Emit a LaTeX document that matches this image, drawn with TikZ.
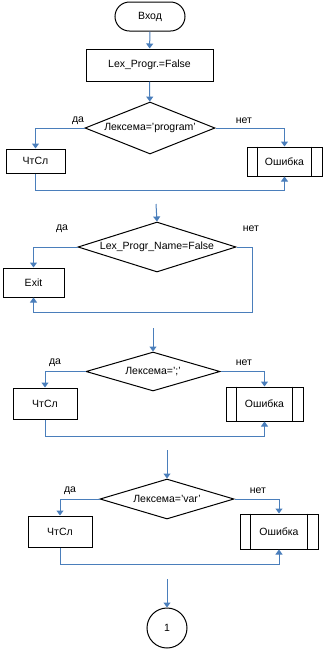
\documentclass[tikz,border=0pt]{standalone}
\usepackage{fontspec}
\setmainfont{Liberation Sans}
\usetikzlibrary{shapes.geometric,shapes.misc,arrows.meta,positioning}
\definecolor{fc-line}{HTML}{4A7EBB}

\begin{document}
\begin{tikzpicture}[
    x=1pt, y=-1pt,
    font=\fontsize{10.5}{12}\selectfont,
    term/.style={draw, line width=1pt, rounded rectangle, minimum width=70pt, minimum height=29pt, inner sep=0pt},
    proc/.style={draw, line width=1pt, minimum width=#1, inner sep=0pt},
    cond/.style={draw, line width=1pt, diamond, aspect=3, inner sep=0pt},
    subproc/.style={draw, line width=1pt, inner sep=0pt},
    endpt/.style={draw, line width=1pt, circle, minimum size=40pt, inner sep=0pt},
    lbl/.style={inner sep=0pt},
    conn/.style={-{Triangle[width=7pt,length=5pt]}, draw=fc-line, line width=1pt},
    joint/.style={draw=fc-line, line width=1pt}
]
\useasboundingbox (0,0) rectangle (323,649);

% ── Начало ───────────────────────────────────────────
\node[term] (start) at (150,16.5) {Вход};
\node[proc=127pt, minimum height=32pt] (init) at (149.5,65) {Lex\_Progr.=False};
\draw[conn] (start) -- (init);

% ── Проверка 'program' ────────────────────────────────
\node[cond, minimum width=130pt, minimum height=52pt] (d1) at (150,128) {Лексема='program'};
\node[proc=59pt, minimum height=24pt] (rd1) at (35.5,161) {ЧтСл};
\node[subproc, minimum width=75pt, minimum height=29pt] (err1) at (284.5,161.5) {Ошибка};
\node[lbl] (yes1) at (78,121) {да};
\node[lbl] (no1) at (244,121) {нет};

\draw[conn] (init) -- (d1);
\draw[conn] (d1.west) -| (rd1.north);
\draw[conn] (d1.east) -| (err1.north);
\draw[conn] (rd1.south) -- ++(0,17) -| (err1.south);

% ── Проверка имени программы ──────────────────────────
\coordinate (in2) at (156,204);
\node[cond, minimum width=158pt, minimum height=50pt] (d2) at (157,247) {Lex\_Progr\_Name=False};
\node[proc=61pt, minimum height=29pt] (exit) at (33.5,282.5) {Exit};
\node[lbl] (yes2) at (62,229) {да};
\node[lbl] (no2) at (251,229) {нет};

\draw[conn] (in2) -- (d2.north);
\draw[conn] (d2.west) -| (exit.north);
\draw[conn] (d2.east) -| ++(16,65) -| (exit.south);

% ── Проверка ';' ──────────────────────────────────────
\coordinate (in3) at (153,328);
\node[cond, minimum width=134pt, minimum height=39pt] (d3) at (153,371.5) {Лексема=';'};
\node[proc=64pt, minimum height=31pt] (rd3) at (45,403.5) {ЧтСл};
\node[subproc, minimum width=77pt, minimum height=34pt] (err3) at (264.5,404) {Ошибка};
\node[lbl] (yes3) at (55,363) {да};
\node[lbl] (no3) at (244,363) {нет};

\draw[conn] (in3) -- (d3.north);
\draw[conn] (d3.west) -| (rd3.north);
\draw[conn] (d3.east) -| (err3.north);
\draw[conn] (rd3.south) -- ++(0,17) -| (err3.south);

% ── Проверка 'var' ────────────────────────────────────
\coordinate (in4) at (167,450);
\node[cond, minimum width=134pt, minimum height=40pt] (d4) at (167,499) {Лексема='var'};
\node[proc=64pt, minimum height=31pt] (rd4) at (60,531.5) {ЧтСл};
\node[subproc, minimum width=78pt, minimum height=35pt] (err4) at (279,531.5) {Ошибка};
\node[lbl] (yes4) at (70,491) {да};
\node[lbl] (no4) at (258,491) {нет};

\draw[conn] (in4) -- (d4.north);
\draw[conn] (d4.west) -| (rd4.north);
\draw[conn] (d4.east) -| (err4.north);
\draw[conn] (rd4.south) -- ++(0,17) -| (err4.south);

% ── Соединитель ───────────────────────────────────────
\coordinate (in5) at (167,579);
\node[endpt] (link) at (167,628) {1};
\draw[conn] (in5) -- (link);

% боковые линии блоков "Ошибка"
\foreach \n in {err1,err3,err4} {
  \draw[line width=1pt] ([xshift=11pt]\n.north west) -- ([xshift=11pt]\n.south west);
  \draw[line width=1pt] ([xshift=-11pt]\n.north east) -- ([xshift=-11pt]\n.south east);
}
\end{tikzpicture}
\end{document}
